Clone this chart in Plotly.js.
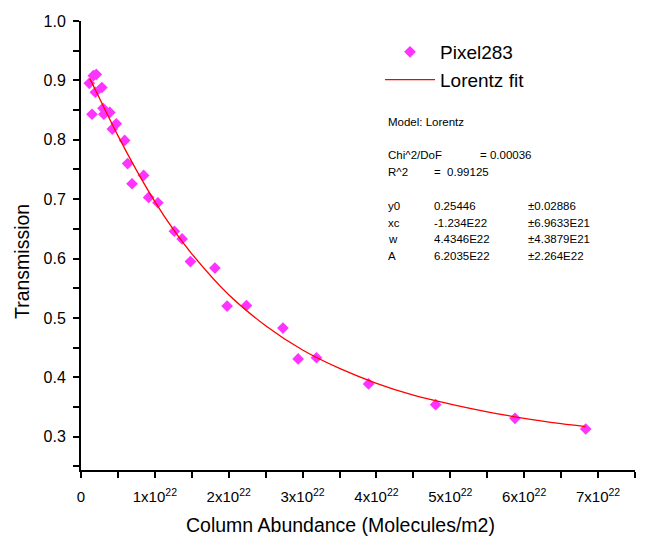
<!DOCTYPE html>
<html>
<head>
<meta charset="utf-8">
<script src="https://cdn.plot.ly/plotly-3.0.1.min.js"></script>
<style>html,body{margin:0;padding:0;background:#fff;}#chart{width:653px;height:551px;}</style>
</head>
<body>
<div id="chart"></div>
<script>
// Measured points (column abundance in molecules/m2, transmission)
var pixelX = [0.112e22, 0.149e22, 0.167e22, 0.207e22, 0.194e22, 0.282e22, 0.298e22, 0.309e22, 0.390e22, 0.424e22,
              0.478e22, 0.591e22, 0.631e22, 0.691e22, 0.848e22, 0.916e22, 1.041e22, 1.264e22, 1.369e22, 1.481e22,
              1.813e22, 1.978e22, 2.240e22, 2.734e22, 2.940e22, 3.188e22, 3.893e22, 4.801e22, 5.875e22, 6.833e22];
var pixelY = [0.895, 0.843, 0.908, 0.910, 0.880, 0.888, 0.853, 0.843, 0.846, 0.818,
              0.827, 0.799, 0.760, 0.726, 0.740, 0.703, 0.694, 0.646, 0.633, 0.595,
              0.584, 0.520, 0.521, 0.483, 0.431, 0.433, 0.389, 0.354, 0.331, 0.313];
// Lorentz fit curve
var fitX = [0.12e22, 0.25e22, 0.5e22, 0.75e22, 1.0e22, 1.25e22, 1.5e22, 2.0e22, 2.5e22, 3.0e22, 3.5e22,
            4.0e22, 4.5e22, 5.0e22, 5.5e22, 6.0e22, 6.5e22, 6.83e22];
var fitY = [0.903, 0.870, 0.807, 0.749, 0.696, 0.649, 0.608, 0.539, 0.487, 0.446, 0.415,
            0.390, 0.370, 0.355, 0.342, 0.331, 0.322, 0.317];
// Axis ticks
var xTickVals = [0, 1e22, 2e22, 3e22, 4e22, 5e22, 6e22, 7e22];
var xTickText = ["0", "1x10<sup>22</sup>", "2x10<sup>22</sup>", "3x10<sup>22</sup>", "4x10<sup>22</sup>",
                 "5x10<sup>22</sup>", "6x10<sup>22</sup>", "7x10<sup>22</sup>"];
// Titles
var xTitle = "Column Abundance (Molecules/m2)";
var yTitle = "Transmission";
// Fit report
var fitLabels = ["y0", "xc", "w", "A"];
var fitValues = ["0.25446", "-1.234E22", "4.4346E22", "6.2035E22"];
var fitErrors = ["\u00b10.02886", "\u00b16.9633E21", "\u00b14.3879E21", "\u00b12.264E22"];

var FONT = "Liberation Sans, Arial, Helvetica, sans-serif";

var traces = [
  {x: pixelX, y: pixelY, type: "scatter", mode: "markers", name: "Pixel283",
   marker: {symbol: "diamond", size: 9, color: "#ff33ff"}},
  {x: fitX, y: fitY, type: "scatter", mode: "lines", name: "Lorentz fit",
   line: {color: "#ff0000", width: 1.3, shape: "spline"}}
];

function px2x(p) { return (p - 81) / 554; }
function px2y(p) { return (470 - p) / 449; }

var ann = [];
function txt(x, y, s) {
  ann.push({xref: "paper", yref: "paper", x: x, y: y, xanchor: "left", yanchor: "middle",
            text: s, showarrow: false, font: {family: FONT, size: 11.5, color: "#000"}});
}
txt(px2x(386), px2y(122), "Model: Lorentz");
txt(px2x(386), px2y(155), "Chi^2/DoF");
txt(px2x(478), px2y(155), "= 0.00036");
txt(px2x(386), px2y(172), "R^2");
txt(px2x(432), px2y(172), "=  0.99125");
for (var i = 0; i < fitLabels.length; i++) {
  var yy = px2y(206 + i * 16.5);
  txt(px2x(386), yy, fitLabels[i]);
  txt(px2x(432), yy, fitValues[i]);
  txt(px2x(526), yy, fitErrors[i]);
}
// axis titles placed as in the reference
ann.push({xref: "paper", yref: "paper", x: px2x(340), y: px2y(525), xanchor: "center", yanchor: "middle",
          text: xTitle, showarrow: false, font: {family: FONT, size: 19.5, color: "#000"}});
ann.push({xref: "paper", yref: "paper", x: px2x(22), y: px2y(262), xanchor: "center", yanchor: "middle",
          textangle: -90, text: yTitle, showarrow: false, font: {family: FONT, size: 19.5, color: "#000"}});

var layout = {
  width: 653, height: 551,
  margin: {l: 81, r: 18, t: 21, b: 81},
  paper_bgcolor: "#fff", plot_bgcolor: "#fff",
  font: {family: FONT, color: "#000"},
  showlegend: true,
  legend: {x: px2x(380), y: px2y(33), xanchor: "left", yanchor: "top", itemwidth: 50,
           bgcolor: "rgba(0,0,0,0)", font: {family: FONT, size: 19, color: "#000"},
           tracegroupgap: 0},
  xaxis: {range: [0, 7.5e22], tickvals: xTickVals, ticktext: xTickText,
          showgrid: false, zeroline: false, showline: true, linecolor: "#000", linewidth: 2,
          ticks: "outside", ticklen: 6, tickwidth: 2, tickcolor: "#000", ticklabelstandoff: 6,
          tickfont: {family: FONT, size: 15, color: "#000"},
          minor: {dtick: 0.5e22, tick0: 0, ticks: "outside", ticklen: 6, tickwidth: 2, tickcolor: "#000", showgrid: false}},
  yaxis: {range: [0.244, 1.0], dtick: 0.1, tick0: 0, tickformat: ".1f",
          showgrid: false, zeroline: false, showline: true, linecolor: "#000", linewidth: 2,
          ticks: "outside", ticklen: 6, tickwidth: 2, tickcolor: "#000", ticklabelstandoff: 4,
          tickfont: {family: FONT, size: 16, color: "#000"},
          minor: {dtick: 0.05, tick0: 0, ticks: "outside", ticklen: 6, tickwidth: 2, tickcolor: "#000", showgrid: false}},
  annotations: ann
};

Plotly.newPlot("chart", traces, layout, {displayModeBar: false, staticPlot: true});
</script>
</body>
</html>
